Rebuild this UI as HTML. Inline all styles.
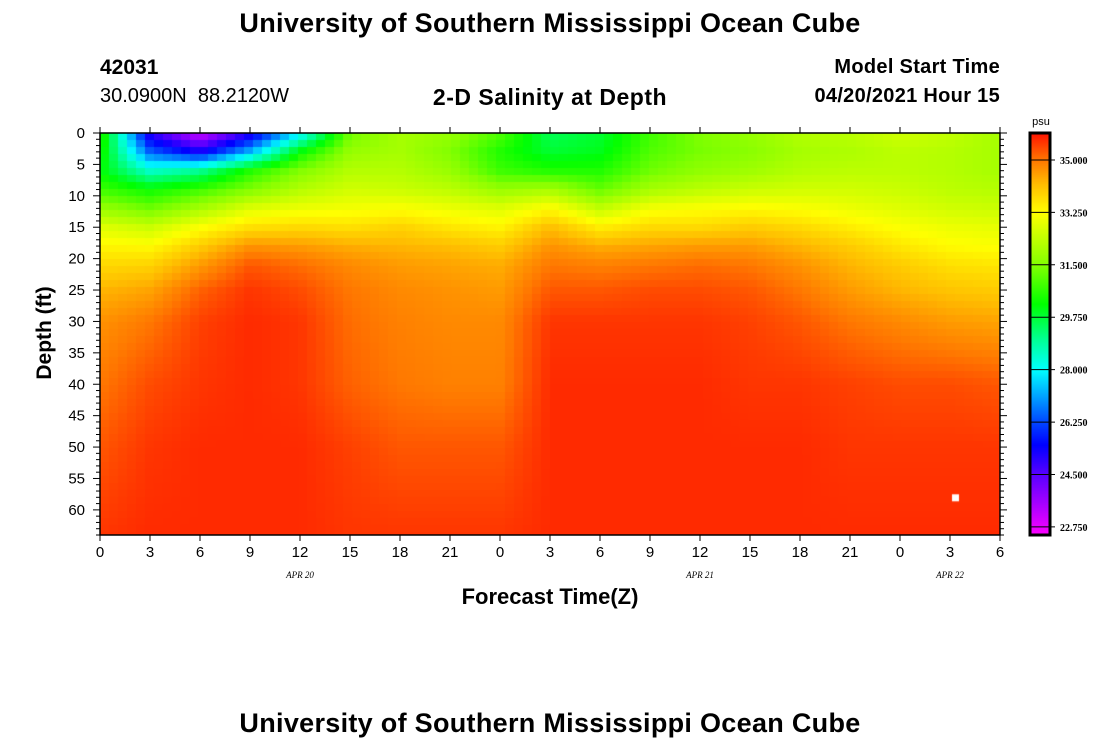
<!DOCTYPE html>
<html><head><meta charset="utf-8"><style>
body{margin:0;background:#fff;width:1100px;height:750px;overflow:hidden;position:relative;font-family:"Liberation Sans",sans-serif}
.t{position:absolute;white-space:nowrap;color:#000}
</style></head><body>
<div class="t" style="left:0;width:1100px;text-align:center;top:8px;font-size:27px;font-weight:bold;letter-spacing:0.3px">University of Southern Mississippi Ocean Cube</div>
<div class="t" style="left:100px;top:56px;font-size:21px;font-weight:bold">42031</div>
<div class="t" style="left:100px;top:85px;font-size:20px">30.0900N&nbsp;&nbsp;88.2120W</div>
<div class="t" style="left:0;width:1100px;text-align:center;top:84px;font-size:23px;font-weight:bold;letter-spacing:0.5px">2-D Salinity at Depth</div>
<div class="t" style="right:100px;top:56px;font-size:20px;font-weight:bold;letter-spacing:0.3px">Model Start Time</div>
<div class="t" style="right:100px;top:85px;font-size:20px;font-weight:bold;letter-spacing:0.3px">04/20/2021 Hour 15</div>
<div class="t" style="left:45px;top:333px;font-size:21px;font-weight:bold;transform:translate(-50%,-50%) rotate(-90deg)">Depth (ft)</div>
<div class="t" style="left:0;width:1100px;text-align:center;top:584px;font-size:22px;font-weight:bold">Forecast Time(Z)</div>
<div class="t" style="left:0;width:1100px;text-align:center;top:708px;font-size:27px;font-weight:bold;letter-spacing:0.3px">University of Southern Mississippi Ocean Cube</div>
<canvas id="heat" width="900" height="402" style="position:absolute;left:100px;top:133px"></canvas>
<canvas id="cbar" width="20" height="402" style="position:absolute;left:1030px;top:133px"></canvas>
<svg id="ax" width="1100" height="750" style="position:absolute;left:0;top:0"></svg>
<script>
const times=[0,3,6,9,12,15,18,21,24,27,30,33,36,39,42,45,48,51,54];
const depths=[0,3,6,9,12,15,18,21,25,30,40,50,64];
const salinity=[
[30.8,30.5,30.2,30.8,31.8,32.8,33.4,33.8,34.3,34.7,35.0,35.3,35.6],
[25.0,26.5,28.5,30.3,31.3,32.5,33.3,33.9,34.5,35.0,35.4,35.6,35.7],
[23.0,25.3,29.0,30.8,32.0,33.2,34.0,34.6,35.2,35.5,35.6,35.7,35.7],
[25.0,27.3,30.5,31.5,32.8,33.7,34.7,35.3,35.6,35.7,35.7,35.7,35.7],
[27.8,30.2,31.5,32.2,33.0,33.8,34.6,35.1,35.4,35.6,35.6,35.7,35.7],
[31.3,31.8,32.2,32.6,33.1,33.7,34.4,34.8,35.0,35.1,35.2,35.5,35.6],
[32.0,32.0,32.2,32.5,33.2,33.9,34.3,34.6,34.8,34.9,35.0,35.3,35.6],
[31.8,31.5,31.8,32.3,33.0,33.6,34.2,34.5,34.7,34.8,34.9,35.3,35.6],
[31.0,30.5,30.8,31.8,32.8,33.4,34.0,34.4,34.6,34.8,34.9,35.3,35.6],
[29.5,29.8,30.5,32.0,33.3,34.2,34.7,35.0,35.3,35.6,35.7,35.7,35.7],
[29.8,30.0,30.5,31.2,32.4,33.5,34.4,34.9,35.3,35.6,35.7,35.7,35.7],
[30.8,31.0,31.3,32.0,33.1,33.8,34.5,35.0,35.4,35.6,35.7,35.7,35.7],
[31.5,31.4,31.7,32.3,33.2,33.8,34.6,35.1,35.4,35.6,35.7,35.7,35.7],
[31.8,31.6,31.9,32.5,33.3,34.0,34.6,35.0,35.3,35.5,35.6,35.7,35.7],
[32.2,32.0,32.2,32.6,33.2,33.8,34.3,34.7,35.0,35.3,35.6,35.7,35.7],
[32.3,32.1,32.3,32.6,33.0,33.5,34.0,34.3,34.6,35.0,35.5,35.6,35.7],
[32.6,32.3,32.3,32.5,32.8,33.2,33.6,34.0,34.3,34.8,35.4,35.6,35.7],
[32.4,32.2,32.2,32.3,32.6,33.0,33.3,33.7,34.1,34.6,35.4,35.6,35.7],
[32.0,32.0,32.0,32.2,32.5,32.9,33.2,33.6,34.0,34.5,35.3,35.6,35.7]];
const xTicks=[0,3,6,9,12,15,18,21,0,3,6,9,12,15,18,21,0,3,6];
const yTicks=[0,5,10,15,20,25,30,35,40,45,50,55,60];
const cbLabels=[35.0,33.25,31.5,29.75,28.0,26.25,24.5,22.75];
const dateLabels=["APR 20","APR 21","APR 22"];
const dateHours=[12,36,51];
const X0=100,X1=1000,Y0=133,Y1=535,TMAX=54,DMAX=64,VMAX=35.9,VMIN=22.48;
const xs=h=>X0+(h/TMAX)*(X1-X0);
const ys=d=>Y0+(d/DMAX)*(Y1-Y0);
const stops=[[22.48,[255,0,255]],[23.5,[170,0,255]],[24.5,[90,0,255]],[25.5,[0,0,255]],[26.25,[0,70,255]],[27.2,[0,170,255]],[28,[0,255,255]],[29.0,[0,255,150]],[30.2,[0,255,0]],[31.5,[130,255,0]],[33.25,[255,255,0]],[34.2,[255,190,0]],[35.0,[255,120,0]],[35.9,[255,20,0]]];
function col(v){v=Math.max(VMIN,Math.min(VMAX,v));for(let i=1;i<stops.length;i++){if(v<=stops[i][0]){const a=stops[i-1],b=stops[i],f=(v-a[0])/(b[0]-a[0]);return a[1].map((c,k)=>Math.round(c+(b[1][k]-c)*f));}}return stops[stops.length-1][1];}
function idx(arr,v){for(let i=0;i<arr.length-1;i++)if(v<=arr[i+1])return [i,(v-arr[i])/(arr[i+1]-arr[i])];return [arr.length-2,1];}
function val(h,d){const [i,fx]=idx(times,h),[j,fy]=idx(depths,d);const a=salinity[i][j],b=salinity[i+1][j],c=salinity[i][j+1],e=salinity[i+1][j+1];return (a*(1-fx)+b*fx)*(1-fy)+(c*(1-fx)+e*fx)*fy;}
const hc=document.getElementById('heat').getContext('2d');
const cw=9,ch=7;
for(let px=0;px<900;px+=cw)for(let py=0;py<402;py+=ch){const h=(px+cw/2)/900*TMAX,d=(py+ch/2)/402*DMAX;const c=col(val(h,d));hc.fillStyle=`rgb(${c[0]},${c[1]},${c[2]})`;hc.fillRect(px,py,cw,ch);}
hc.fillStyle='#fff';hc.fillRect(xs(51.3)-X0-3,ys(58)-Y0-3,7,7);
const cc=document.getElementById('cbar').getContext('2d');
for(let py=0;py<402;py++){const v=VMAX-(py/402)*(VMAX-VMIN);const c=col(v);cc.fillStyle=`rgb(${c[0]},${c[1]},${c[2]})`;cc.fillRect(0,py,20,1);}
const svg=document.getElementById('ax');const NS='http://www.w3.org/2000/svg';
function mk(tag,attrs,name){const e=document.createElementNS(NS,tag);for(const k in attrs)e.setAttribute(k,attrs[k]);


svg.appendChild(e);return e;}
mk('rect',{x:X0,y:Y0,width:X1-X0,height:Y1-Y0,fill:'none',stroke:'#000','stroke-width':1.5},'plot-frame');
xTicks.forEach((t,i)=>{const x=xs(i*3);mk('line',{x1:x,y1:Y0,x2:x,y2:Y0-6,stroke:'#000'},'x-tick-top');mk('line',{x1:x,y1:Y1,x2:x,y2:Y1+6,stroke:'#000'},'x-tick');const tx=mk('text',{x:x,y:557,'text-anchor':'middle','font-size':15,'font-family':'Liberation Sans'},'x-tick-label');tx.textContent=t;});
for(let d=0;d<=DMAX;d++){const y=ys(d);const L=d%5===0?7:4;mk('line',{x1:X0,y1:y,x2:X0-L,y2:y,stroke:'#000'},'y-tick');mk('line',{x1:X1,y1:y,x2:X1+L,y2:y,stroke:'#000'},'y-tick-right');}
yTicks.forEach(d=>{const tx=mk('text',{x:85,y:ys(d)+5,'text-anchor':'end','font-size':15,'font-family':'Liberation Sans'},'y-tick-label');tx.textContent=d;});
dateLabels.forEach((l,i)=>{const tx=mk('text',{x:xs(dateHours[i]),y:578,'text-anchor':'middle','font-size':9,'font-style':'italic','font-family':'Liberation Serif'},'date-label');tx.textContent=l;});
mk('rect',{x:1030,y:Y0,width:20,height:Y1-Y0,fill:'none',stroke:'#000','stroke-width':3},'colorbar-frame');
cbLabels.forEach(v=>{const y=Y0+(VMAX-v)/(VMAX-VMIN)*(Y1-Y0);mk('line',{x1:1030,y1:y,x2:1055,y2:y,stroke:'#000'},'colorbar-tick');const tx=mk('text',{x:1060,y:y+4,'font-size':10,'font-family':'Liberation Serif','font-weight':'bold'},'colorbar-label');tx.textContent=v.toFixed(3);});
const u=mk('text',{x:1041,y:125,'text-anchor':'middle','font-size':11,'font-family':'Liberation Sans'},'colorbar-unit');u.textContent='psu';
</script>
</body></html>
